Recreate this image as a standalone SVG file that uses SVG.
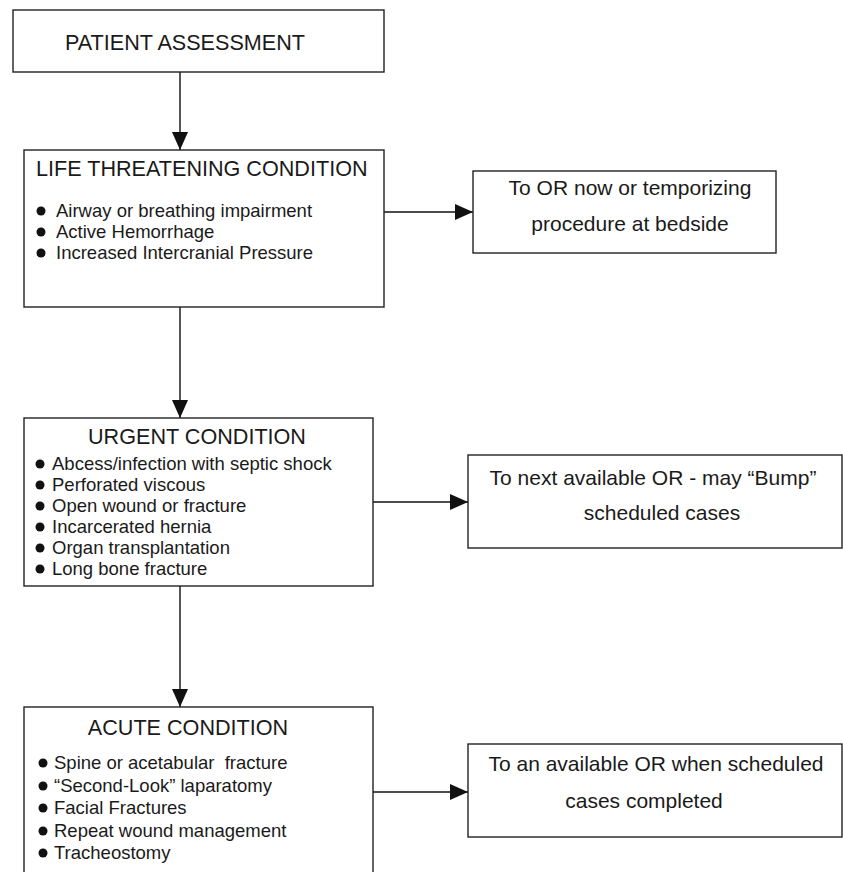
<svg xmlns="http://www.w3.org/2000/svg" width="843" height="872" viewBox="0 0 843 872">
<defs>
<style>
.box{fill:#fff;stroke:#222;stroke-width:1.4}
.t{font-family:"Liberation Sans",Arial,sans-serif;font-size:21px;fill:#1a1a1a}
.h{font-size:21.6px}
.b{font-family:"Liberation Sans",Arial,sans-serif;font-size:18.5px;fill:#1a1a1a;white-space:pre}
.m{text-anchor:middle}
.dot{fill:#111}
.conn{stroke:#111;stroke-width:1.4;fill:none}
</style>
<marker id="ah" markerUnits="userSpaceOnUse" markerWidth="18" markerHeight="16" refX="18" refY="8" orient="auto">
<path d="M0,0 L18,8 L0,16 z" fill="#111"/>
</marker>
</defs>
<rect width="843" height="872" fill="#fff"/>
<g id="connectors">
<line class="conn" x1="180" y1="72" x2="180" y2="150" marker-end="url(#ah)"/>
<line class="conn" x1="180" y1="307" x2="180" y2="418" marker-end="url(#ah)"/>
<line class="conn" x1="180" y1="586" x2="180" y2="707" marker-end="url(#ah)"/>
<line class="conn" x1="384" y1="212" x2="473" y2="212" marker-end="url(#ah)"/>
<line class="conn" x1="373" y1="502" x2="468" y2="502" marker-end="url(#ah)"/>
<line class="conn" x1="373" y1="792" x2="468" y2="792" marker-end="url(#ah)"/>
</g>
<g id="patient-assessment">
<rect class="box" x="13" y="10" width="371" height="62"/>
<text class="t h" x="65" y="50">PATIENT ASSESSMENT</text>
</g>
<g id="life-threatening">
<rect class="box" x="24" y="150" width="360" height="157"/>
<text class="t h" x="36" y="176">LIFE THREATENING CONDITION</text>
<circle class="dot" cx="41" cy="211" r="4.5"/>
<circle class="dot" cx="41" cy="232" r="4.5"/>
<circle class="dot" cx="41" cy="253" r="4.5"/>
<text class="b" x="56" y="217">Airway or breathing impairment</text>
<text class="b" x="56" y="238">Active Hemorrhage</text>
<text class="b" x="56" y="259">Increased Intercranial Pressure</text>
</g>
<g id="or-now">
<rect class="box" x="473" y="171" width="303" height="82"/>
<text class="t m" x="630" y="195">To OR now or temporizing</text>
<text class="t m" x="630" y="231">procedure at bedside</text>
</g>
<g id="urgent">
<rect class="box" x="24" y="418" width="349" height="168"/>
<text class="t h m" x="197" y="444">URGENT CONDITION</text>
<circle class="dot" cx="40" cy="464" r="4.5"/>
<circle class="dot" cx="40" cy="485" r="4.5"/>
<circle class="dot" cx="40" cy="506" r="4.5"/>
<circle class="dot" cx="40" cy="527" r="4.5"/>
<circle class="dot" cx="40" cy="548" r="4.5"/>
<circle class="dot" cx="40" cy="569" r="4.5"/>
<text class="b" x="52" y="470">Abcess/infection with septic shock</text>
<text class="b" x="52" y="491">Perforated viscous</text>
<text class="b" x="52" y="512">Open wound or fracture</text>
<text class="b" x="52" y="533">Incarcerated hernia</text>
<text class="b" x="52" y="554">Organ transplantation</text>
<text class="b" x="52" y="575">Long bone fracture</text>
</g>
<g id="next-or">
<rect class="box" x="468" y="455" width="374" height="93"/>
<text class="t m" x="653" y="485">To next available OR - may “Bump”</text>
<text class="t m" x="662" y="520">scheduled cases</text>
</g>
<g id="acute">
<rect class="box" x="24" y="707" width="349" height="180"/>
<text class="t h m" x="188" y="735">ACUTE CONDITION</text>
<circle class="dot" cx="43" cy="763" r="4.5"/>
<circle class="dot" cx="43" cy="786" r="4.5"/>
<circle class="dot" cx="43" cy="808" r="4.5"/>
<circle class="dot" cx="43" cy="831" r="4.5"/>
<circle class="dot" cx="43" cy="853" r="4.5"/>
<text class="b" x="54" y="769" xml:space="preserve">Spine or acetabular  fracture</text>
<text class="b" x="54" y="792">“Second-Look” laparatomy</text>
<text class="b" x="54" y="814">Facial Fractures</text>
<text class="b" x="54" y="837">Repeat wound management</text>
<text class="b" x="54" y="859">Tracheostomy</text>
</g>
<g id="available-or">
<rect class="box" x="468" y="744" width="374" height="93"/>
<text class="t m" x="656" y="771">To an available OR when scheduled</text>
<text class="t m" x="644" y="808">cases completed</text>
</g>
</svg>
